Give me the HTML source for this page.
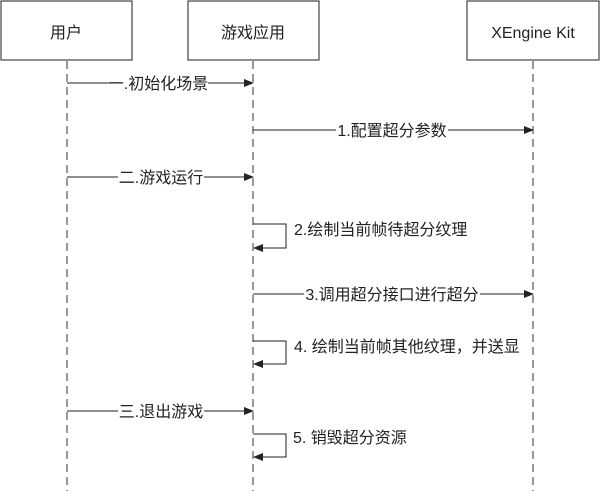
<!DOCTYPE html>
<html><head><meta charset="utf-8"><style>
body{margin:0;background:#fff}
svg text{font-family:"Liberation Sans","Noto Sans CJK SC",sans-serif;font-size:16px;fill:#222}
</style></head><body>
<svg width="600" height="491" viewBox="0 0 600 491" xmlns="http://www.w3.org/2000/svg">
<defs><marker id="a" markerWidth="10" markerHeight="8" refX="9" refY="4" orient="auto" markerUnits="userSpaceOnUse"><path d="M0,0 L10,4 L0,8 z" fill="#222"/></marker></defs>
<g fill="#fff" stroke="#444" stroke-width="1.2">
<rect x="1" y="1" width="131" height="59"/>
<rect x="188" y="1" width="131" height="59"/>
<rect x="467" y="1" width="132" height="59"/>
</g>
<text x="66" y="38" text-anchor="middle">用户</text>
<text x="253" y="38" text-anchor="middle">游戏应用</text>
<text x="533" y="38" text-anchor="middle">XEngine Kit</text>
<g stroke="#333" stroke-width="1" stroke-dasharray="8,5">
<line x1="67" y1="61" x2="67" y2="491"/>
<line x1="253" y1="61" x2="253" y2="491"/>
<line x1="533" y1="61" x2="533" y2="491"/>
</g>
<g stroke="#222" stroke-width="1" fill="none" marker-end="url(#a)">
<line x1="67" y1="83" x2="253" y2="83"/>
<line x1="253" y1="130" x2="533" y2="130"/>
<line x1="67" y1="177" x2="253" y2="177"/>
<polyline points="253,224 286,224 286,248 254,248"/>
<line x1="253" y1="294" x2="533" y2="294"/>
<polyline points="253,341 286,341 286,364 254,364"/>
<line x1="67" y1="411" x2="253" y2="411"/>
<polyline points="253,434 286,434 286,457 254,457"/>
</g>
<g fill="#fff">
<rect x="108" y="74" width="100" height="18"/>
<rect x="336" y="121" width="112" height="18"/>
<rect x="118" y="168" width="86" height="18"/>
<rect x="304" y="285" width="176" height="18"/>
<rect x="118" y="402" width="86" height="18"/>
</g>
<text x="158" y="89" text-anchor="middle">一.初始化场景</text>
<text x="392" y="136" text-anchor="middle">1.配置超分参数</text>
<text x="161" y="183" text-anchor="middle">二.游戏运行</text>
<text x="294" y="235">2.绘制当前帧待超分纹理</text>
<text x="392" y="300" text-anchor="middle">3.调用超分接口进行超分</text>
<text x="294" y="352">4. 绘制当前帧其他纹理，并送显</text>
<text x="161" y="417" text-anchor="middle">三.退出游戏</text>
<text x="293" y="443">5. 销毁超分资源</text>
</svg>
</body></html>
